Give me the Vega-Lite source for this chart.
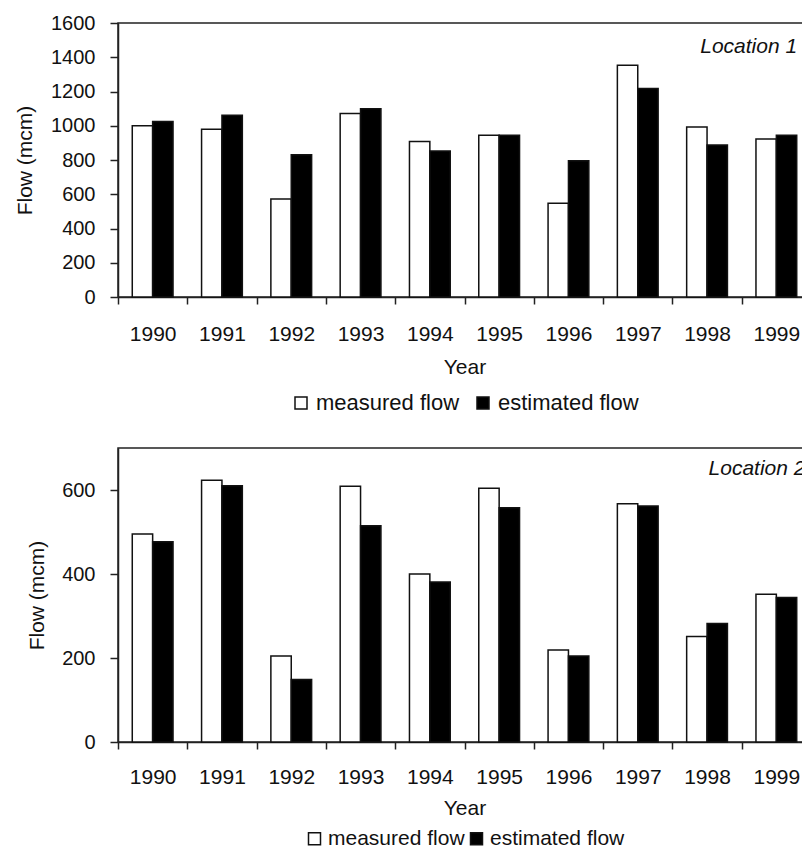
{
  "$schema": "https://vega.github.io/schema/vega-lite/v6.json",
  "padding": {"left": 13, "top": 12, "right": 0, "bottom": 0},
  "config": {
    "font": "Liberation Sans",
    "view": {"stroke": "#222", "strokeWidth": 1.5},
    "axis": {"domainColor": "#222", "domainWidth": 1.5, "tickColor": "#222", "tickWidth": 1.5, "grid": false, "labelColor": "#111", "titleColor": "#111", "labelFont": "Liberation Sans", "titleFont": "Liberation Sans", "titleFontWeight": "normal"},
    "axisY": {"labelOverlap": false},
    "legend": {"layout": {"bottom": {"anchor": "middle"}}, "labelFont": "Liberation Sans", "labelColor": "#111"}
  },
  "datasets": {
    "loc1": [
      {"year": "1990", "series": "measured flow", "flow": 1000}, {"year": "1990", "series": "estimated flow", "flow": 1025},
      {"year": "1991", "series": "measured flow", "flow": 980}, {"year": "1991", "series": "estimated flow", "flow": 1062},
      {"year": "1992", "series": "measured flow", "flow": 572}, {"year": "1992", "series": "estimated flow", "flow": 830},
      {"year": "1993", "series": "measured flow", "flow": 1072}, {"year": "1993", "series": "estimated flow", "flow": 1100},
      {"year": "1994", "series": "measured flow", "flow": 908}, {"year": "1994", "series": "estimated flow", "flow": 853},
      {"year": "1995", "series": "measured flow", "flow": 945}, {"year": "1995", "series": "estimated flow", "flow": 945},
      {"year": "1996", "series": "measured flow", "flow": 547}, {"year": "1996", "series": "estimated flow", "flow": 795},
      {"year": "1997", "series": "measured flow", "flow": 1354}, {"year": "1997", "series": "estimated flow", "flow": 1218},
      {"year": "1998", "series": "measured flow", "flow": 992}, {"year": "1998", "series": "estimated flow", "flow": 888},
      {"year": "1999", "series": "measured flow", "flow": 922}, {"year": "1999", "series": "estimated flow", "flow": 945}
    ],
    "loc2": [
      {"year": "1990", "series": "measured flow", "flow": 495}, {"year": "1990", "series": "estimated flow", "flow": 477},
      {"year": "1991", "series": "measured flow", "flow": 623}, {"year": "1991", "series": "estimated flow", "flow": 610},
      {"year": "1992", "series": "measured flow", "flow": 205}, {"year": "1992", "series": "estimated flow", "flow": 149},
      {"year": "1993", "series": "measured flow", "flow": 609}, {"year": "1993", "series": "estimated flow", "flow": 515},
      {"year": "1994", "series": "measured flow", "flow": 400}, {"year": "1994", "series": "estimated flow", "flow": 381},
      {"year": "1995", "series": "measured flow", "flow": 604}, {"year": "1995", "series": "estimated flow", "flow": 558},
      {"year": "1996", "series": "measured flow", "flow": 219}, {"year": "1996", "series": "estimated flow", "flow": 205},
      {"year": "1997", "series": "measured flow", "flow": 567}, {"year": "1997", "series": "estimated flow", "flow": 562},
      {"year": "1998", "series": "measured flow", "flow": 251}, {"year": "1998", "series": "estimated flow", "flow": 282},
      {"year": "1999", "series": "measured flow", "flow": 352}, {"year": "1999", "series": "estimated flow", "flow": 344}
    ]
  },
  "spacing": 32,
  "vconcat": [
    {
      "width": 693,
      "height": 274,
      "layer": [
        {
          "data": {"name": "loc1"},
          "mark": {"type": "bar", "stroke": "#111", "strokeWidth": 1.5},
          "encoding": {
            "x": {"field": "year", "type": "nominal", "scale": {"paddingInner": 0, "paddingOuter": 0},
                  "axis": {"title": "Year", "labelAngle": 0, "tickBand": "extent", "tickSize": 7, "labelPadding": 19, "labelFontSize": 21, "titleFontSize": 21, "titlePadding": 12}},
            "xOffset": {"field": "series", "type": "nominal", "sort": ["measured flow", "estimated flow"], "scale": {"paddingInner": 0, "paddingOuter": 0.7}},
            "y": {"field": "flow", "type": "quantitative", "scale": {"domain": [0, 1600], "nice": false},
                  "axis": {"title": "Flow (mcm)", "values": [0, 200, 400, 600, 800, 1000, 1200, 1400, 1600], "tickCount": 12, "format": "d", "labelOverlap": false, "tickSize": 8, "labelPadding": 15, "labelFontSize": 20, "titleFontSize": 21, "titlePadding": 15}},
            "fill": {"field": "series", "type": "nominal", "scale": {"domain": ["measured flow", "estimated flow"], "range": ["white", "black"]},
                     "legend": {"orient": "bottom", "title": null, "symbolType": "square", "symbolSize": 144, "symbolStrokeColor": "#111", "symbolStrokeWidth": 1.5, "labelFontSize": 22, "labelOffset": 4, "columnPadding": 12, "offset": 15}}
          }
        },
        {
          "data": {"values": [{"year": "1999", "flow": 1460, "label": "Location 1"}]},
          "mark": {"type": "text", "align": "right", "baseline": "middle", "fontStyle": "italic", "fontSize": 21, "color": "#111"},
          "encoding": {
            "x": {"field": "year", "type": "nominal", "bandPosition": 0.8},
            "y": {"field": "flow", "type": "quantitative"},
            "text": {"field": "label"}
          }
        }
      ]
    },
    {
      "width": 693,
      "height": 294,
      "layer": [
        {
          "data": {"name": "loc2"},
          "mark": {"type": "bar", "stroke": "#111", "strokeWidth": 1.5},
          "encoding": {
            "x": {"field": "year", "type": "nominal", "scale": {"paddingInner": 0, "paddingOuter": 0},
                  "axis": {"title": "Year", "labelAngle": 0, "tickBand": "extent", "tickSize": 7, "labelPadding": 17, "labelFontSize": 21, "titleFontSize": 21, "titlePadding": 10}},
            "xOffset": {"field": "series", "type": "nominal", "sort": ["measured flow", "estimated flow"], "scale": {"paddingInner": 0, "paddingOuter": 0.7}},
            "y": {"field": "flow", "type": "quantitative", "scale": {"domain": [0, 700], "nice": false},
                  "axis": {"title": "Flow (mcm)", "values": [0, 200, 400, 600], "tickCount": 10, "format": "d", "tickSize": 8, "labelPadding": 15, "labelFontSize": 20, "titleFontSize": 21, "titlePadding": 14}},
            "fill": {"field": "series", "type": "nominal", "scale": {"domain": ["measured flow", "estimated flow"], "range": ["white", "black"]},
                     "legend": {"orient": "bottom", "title": null, "symbolType": "square", "symbolSize": 144, "symbolStrokeColor": "#111", "symbolStrokeWidth": 1.5, "labelFontSize": 21, "labelOffset": 3, "columnPadding": 1, "offset": 10}}
          }
        },
        {
          "data": {"values": [{"year": "1999", "flow": 651, "label": "Location 2"}]},
          "mark": {"type": "text", "align": "right", "baseline": "middle", "fontStyle": "italic", "fontSize": 21, "color": "#111"},
          "encoding": {
            "x": {"field": "year", "type": "nominal", "bandPosition": 0.92},
            "y": {"field": "flow", "type": "quantitative"},
            "text": {"field": "label"}
          }
        }
      ]
    }
  ],
  "resolve": {"scale": {"fill": "independent"}, "legend": {"fill": "independent"}}
}
